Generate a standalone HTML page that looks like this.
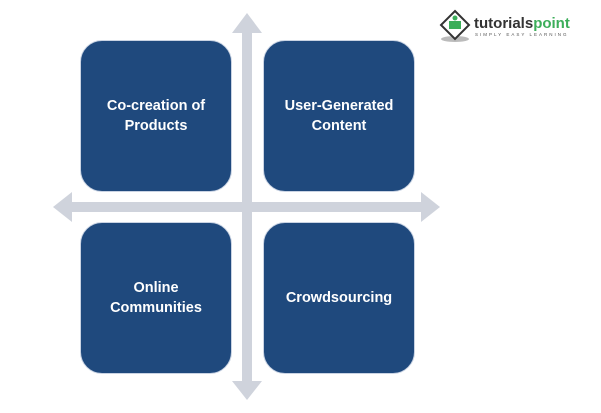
<!DOCTYPE html>
<html><head><style>
body{margin:0;width:601px;height:413px;background:#fff;position:relative;overflow:hidden;font-family:"Liberation Sans",sans-serif}
.b{position:absolute;width:152px;height:152px;background:#1f497d;border:1px solid #c9d3e3;border-radius:22px;color:#fff;font-weight:bold;font-size:14.5px;text-align:center;display:flex;align-items:center;justify-content:center;line-height:20px;box-sizing:border-box}
</style></head><body>
<svg width="601" height="413" style="position:absolute;left:0;top:0">
<g fill="#cfd3dc">
<rect x="242" y="30" width="10" height="354"/>
<polygon points="247,13 262,33 232,33"/>
<polygon points="247,400 262,381 232,381"/>
<rect x="70" y="202" width="354" height="10"/>
<polygon points="53,207 72,192 72,222"/>
<polygon points="440,207 421,192 421,222"/>
</g>
<g transform="translate(455,25)">
<ellipse cx="0" cy="14" rx="14" ry="3" fill="#bbb"/>
<polygon points="0,-14 14,0 0,14 -14,0" fill="#fff" stroke="#333" stroke-width="2"/>
<rect x="-6" y="-4" width="12" height="8" fill="#3cae5a"/>
<circle cx="0" cy="-7" r="2.5" fill="#3cae5a"/>
</g>
<text x="474" y="28" font-family="Liberation Sans" font-weight="bold" font-size="15" fill="#333">tutorials<tspan fill="#3cae5a">point</tspan></text>
<text x="475" y="36" font-family="Liberation Sans" font-size="4.5" letter-spacing="2" fill="#555">SIMPLY EASY LEARNING</text>
</svg>
<div class="b" style="left:80px;top:40px">Co-creation of<br>Products</div>
<div class="b" style="left:263px;top:40px">User-Generated<br>Content</div>
<div class="b" style="left:80px;top:222px">Online<br>Communities</div>
<div class="b" style="left:263px;top:222px">Crowdsourcing</div>
</body></html>
